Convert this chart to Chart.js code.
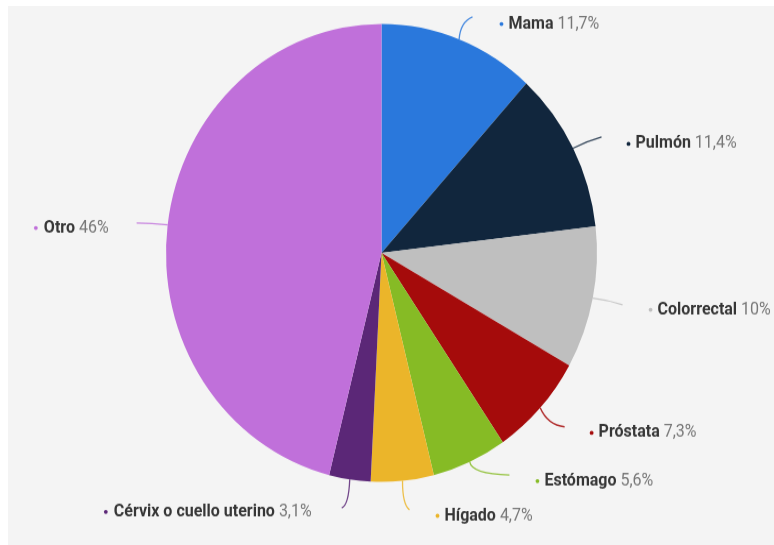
<!DOCTYPE html>
<html><head><meta charset="utf-8">
<script src="https://cdn.jsdelivr.net/npm/chart.js@4"></script>
<style>
html,body{margin:0;padding:0;background:#fff;width:774px;height:545px;overflow:hidden}
#panel{position:absolute;left:8px;top:6px;right:0;bottom:0;background:#f4f4f4}
#wrap{position:absolute;left:0;top:0;width:774px;height:513px;transform:scaleY(1.0624);transform-origin:0 0}
canvas{display:block}
</style></head>
<body>
<div id="panel"></div>
<div id="wrap"><canvas id="c" width="774" height="513"></canvas></div>
<script>
const categories = ['Mama', 'Pulmón', 'Colorrectal', 'Próstata', 'Estómago', 'Hígado', 'Cérvix o cuello uterino', 'Otro'];
const values = [11.7, 11.4, 10, 7.3, 5.6, 4.7, 3.1, 46];
const valueLabels = ['11,7%', '11,4%', '10%', '7,3%', '5,6%', '4,7%', '3,1%', '46%'];
const colors = ['#2a78dc', '#11263d', '#bfbfbf', '#a50b0b', '#86bb25', '#ebb52a', '#5b2777', '#c070da'];

const SY = 545 / 513;
// leader layout (screen px offsets from slice edge): control point, end point, text anchor offset from end
const labelLayout = [
  {c: [1.4, -17.4], e: [13.4, -22.4], t: [29, 7], side: 1},
  {c: [14.4, -7.3], e: [28.4, -11.3], t: [27, 7], side: 1},
  {c: [14.8, 1.7], e: [29.8, 6.7], t: [28, 5], side: 1},
  {c: [7.4, 17], e: [24.4, 19], t: [27, 6], side: 1},
  {c: [1.7, 12.2], e: [39.7, 13.2], t: [28, 6], side: 1},
  {c: [0, 24], e: [7, 29], t: [28, 6], side: 1},
  {c: [-1, 25.5], e: [-8, 28.5], t: [-30, 4], side: -1},
  {c: [-16, -2], e: [-31, -2], t: [-28, 5], side: -1}
];

const labelPlugin = {
  id: 'leaderLabels',
  afterDatasetsDraw(chart) {
    const ctx = chart.ctx;
    const meta = chart.getDatasetMeta(0);
    meta.data.forEach((arc, i) => {
      const L = labelLayout[i];
      const a = (arc.startAngle + arc.endAngle) / 2;
      const r = arc.outerRadius;
      const x0 = arc.x + r * Math.cos(a);
      const y0 = arc.y + r * Math.sin(a);
      const cx = x0 + L.c[0], cy = y0 + L.c[1] / SY;
      const ex = x0 + L.e[0], ey = y0 + L.e[1] / SY;
      ctx.save();
      ctx.strokeStyle = colors[i];
      ctx.globalAlpha = 0.85;
      ctx.lineWidth = 1.3;
      ctx.beginPath();
      ctx.moveTo(x0, y0);
      ctx.quadraticCurveTo(cx, cy, ex, ey);
      ctx.stroke();
      ctx.globalAlpha = 1;
      const tx = ex + L.t[0], ty = ey + L.t[1] / SY;
      const fName = 'bold 16px Roboto';
      const fVal = '16px Roboto';
      ctx.font = fName;
      const wName = ctx.measureText(categories[i] + ' ').width;
      ctx.font = fVal;
      const wVal = ctx.measureText(valueLabels[i]).width;
      let start, dotX;
      if (L.side > 0) {
        dotX = tx;
        start = tx + 7;
      } else {
        start = tx - wName - wVal;
        dotX = start - 8;
      }
      ctx.fillStyle = colors[i];
      ctx.beginPath();
      ctx.arc(dotX, ty, 1.9, 0, Math.PI * 2);
      ctx.fill();
      ctx.textBaseline = 'middle';
      ctx.textAlign = 'left';
      ctx.font = fName;
      ctx.fillStyle = '#363636';
      ctx.fillText(categories[i], start, ty);
      ctx.font = fVal;
      ctx.fillStyle = '#777777';
      ctx.fillText(valueLabels[i], start + wName, ty);
      ctx.restore();
    });
  }
};

new Chart(document.getElementById('c'), {
  type: 'pie',
  data: {
    labels: categories,
    datasets: [{
      data: values,
      backgroundColor: colors,
      borderWidth: 0
    }]
  },
  options: {
    responsive: false,
    animation: false,
    devicePixelRatio: 1,
    layout: {padding: {left: 166, right: 177, top: 22.6, bottom: 59.4}},
    plugins: {legend: {display: false}, tooltip: {enabled: false}}
  },
  plugins: [labelPlugin]
});
</script>
</body></html>
